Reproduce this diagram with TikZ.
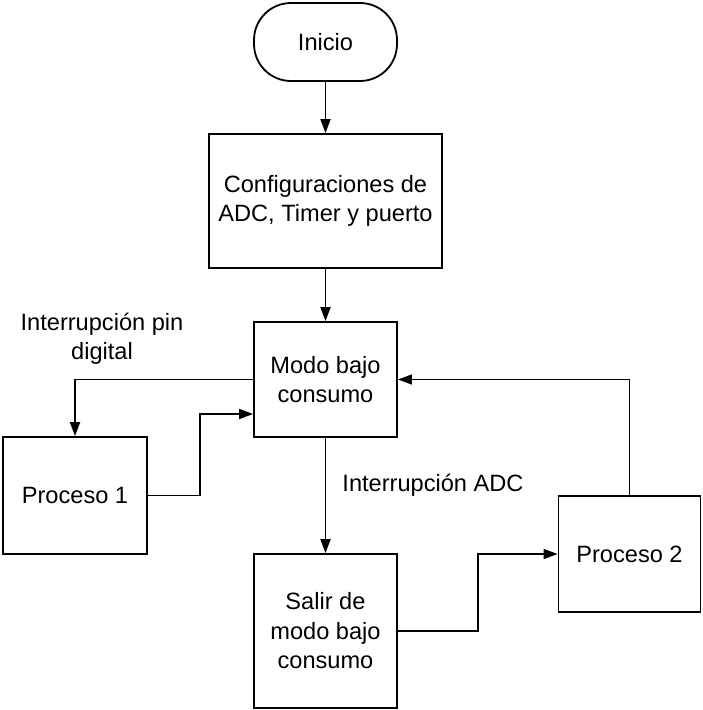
\documentclass[tikz,border=0pt]{standalone}
\usepackage{fontspec}
\setmainfont{Liberation Sans}
\usetikzlibrary{arrows.meta,positioning}
\tikzset{
  box/.style={draw, line width=1.8pt, rectangle, align=center, inner sep=0pt,
    font=\fontsize{23.6}{29.5}\selectfont},
  lbl/.style={align=center, inner sep=0pt, font=\fontsize{23.6}{29.5}\selectfont},
  conn/.style={line width=1.8pt, -{Triangle[length=14pt,width=10pt]}},
  thinconn/.style={line width=1.3pt, -{Triangle[length=14pt,width=10pt]}}
}
\begin{document}
\begin{tikzpicture}[x=1pt,y=-1pt]
\useasboundingbox (0,0) rectangle (702,710);
\node[box, rounded corners=37pt, minimum width=143pt, minimum height=78pt] (inicio) at (325.5,42) {Inicio};
\node[box, minimum width=233pt, minimum height=134pt] (config) at (325.5,201) {Configuraciones de\\ADC, Timer y puerto};
\node[box, minimum width=143pt, minimum height=115pt] (modo) at (325.5,379.5) {Modo bajo\\consumo};
\node[box, minimum width=144pt, minimum height=117pt] (p1) at (75,495.5) {Proceso 1};
\node[box, minimum width=143pt, minimum height=154pt] (salir) at (325.5,631) {Salir de\\modo bajo\\consumo};
\node[box, minimum width=142pt, minimum height=116pt] (p2) at (629.5,554) {Proceso 2};
\node[lbl] (l1) at (102,339) {Interrupción pin\\digital};
\node[lbl] (l2) at (433,485) {Interrupción ADC};
\coordinate (j1) at (200,414);
\coordinate (j2) at (478,554);
\draw[conn] (inicio) -- (config);
\draw[conn] (config) -- (modo);
\draw[conn] (modo.west) -| (p1.north);
\draw[conn] (p1.east) -- (p1.east -| j1) -- (j1) -- (j1 -| modo.west);
\draw[conn] (modo) -- (salir);
\draw[conn] (salir.east) -- (salir.east -| j2) -- (j2) -- (p2.west);
\draw[thinconn] (p2.north) |- (modo.east);
\end{tikzpicture}
\end{document}
